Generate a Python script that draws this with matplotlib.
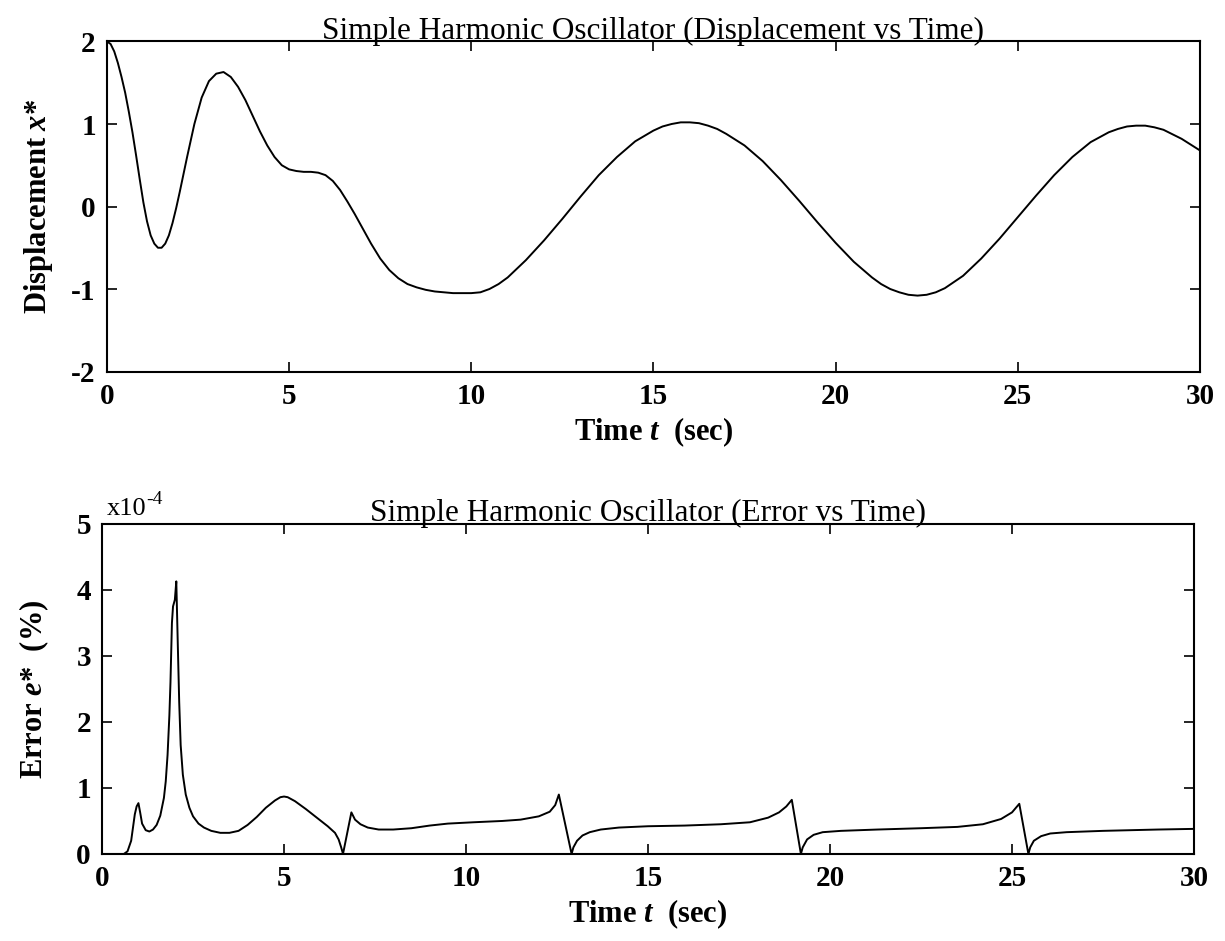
import numpy as np
import matplotlib
matplotlib.use("Agg")
import matplotlib.pyplot as plt

plt.rcParams['font.family'] = ['Liberation Serif', 'DejaVu Serif']
plt.rcParams['mathtext.fontset'] = 'custom'
plt.rcParams['mathtext.it'] = 'Liberation Serif:italic:bold'
plt.rcParams['mathtext.rm'] = 'Liberation Serif:bold'
plt.rcParams['axes.unicode_minus'] = False

# --- displacement x* vs time ---
t_disp = [0.0, 0.1, 0.2, 0.3, 0.4, 0.5, 0.6, 0.7, 0.8, 0.9, 1.0, 1.1, 1.2,
          1.3, 1.4, 1.5, 1.6, 1.7, 1.8, 1.9, 2.0, 2.2, 2.4, 2.6, 2.8, 3.0,
          3.2, 3.4, 3.6, 3.8, 4.0, 4.2, 4.4, 4.6, 4.8, 5.0, 5.2, 5.4, 5.6,
          5.8, 6.0, 6.2, 6.4, 6.6, 6.8, 7.0, 7.25, 7.5, 7.75, 8.0, 8.25, 8.5,
          8.75, 9.0, 9.5, 10.0, 10.25, 10.5, 10.75, 11.0, 11.5, 12.0, 12.5,
          13.0, 13.5, 14.0, 14.5, 15.0, 15.25, 15.5, 15.75, 16.0, 16.25, 16.5,
          16.75, 17.0, 17.5, 18.0, 18.5, 19.0, 19.5, 20.0, 20.5, 21.0, 21.25,
          21.5, 21.75, 22.0, 22.25, 22.5, 22.75, 23.0, 23.5, 24.0, 24.5, 25.0,
          25.5, 26.0, 26.5, 27.0, 27.5, 27.75, 28.0, 28.25, 28.5, 28.75, 29.0,
          29.5, 30.0]
x_disp = [2.0, 1.97, 1.88, 1.74, 1.57, 1.38, 1.15, 0.9, 0.62, 0.33, 0.05, -0.18, -0.35,
          -0.45, -0.5, -0.5, -0.45, -0.35, -0.2, -0.02, 0.18, 0.6, 1.0, 1.32, 1.52, 1.61,
          1.63, 1.57, 1.45, 1.29, 1.1, 0.91, 0.74, 0.6, 0.5, 0.45, 0.43, 0.42, 0.42,
          0.41, 0.38, 0.31, 0.2, 0.06, -0.09, -0.25, -0.45, -0.63, -0.77, -0.87, -0.94, -0.98,
          -1.01, -1.03, -1.05, -1.05, -1.04, -1.0, -0.94, -0.86, -0.65, -0.41, -0.15,
          0.12, 0.38, 0.6, 0.79, 0.92, 0.97, 1.0, 1.02, 1.02, 1.01, 0.98,
          0.94, 0.88, 0.74, 0.55, 0.32, 0.07, -0.19, -0.44, -0.67, -0.86, -0.94,
          -1.0, -1.04, -1.07, -1.08, -1.07, -1.04, -0.99, -0.84, -0.63, -0.39, -0.13,
          0.13, 0.38, 0.6, 0.78, 0.9, 0.94, 0.97, 0.98, 0.98, 0.96, 0.93,
          0.82, 0.68]

# --- error e* (units of 1e-4 %) vs time ---
t_err = [0.0, 0.6, 0.7, 0.8, 0.85, 0.9, 0.95, 1.0, 1.05, 1.1, 1.2, 1.3, 1.4,
         1.5, 1.6, 1.7, 1.75, 1.8, 1.85, 1.88, 1.92, 1.95, 2.0, 2.04, 2.08,
         2.12, 2.16, 2.22, 2.3, 2.4, 2.5, 2.65, 2.8, 3.0, 3.25, 3.5, 3.75,
         4.0, 4.25, 4.5, 4.75, 4.9, 5.0, 5.1, 5.3, 5.6, 5.9, 6.2, 6.4, 6.5,
         6.57, 6.62, 6.85, 6.95, 7.1, 7.3, 7.6, 8.0, 8.5, 9.0, 9.5, 10.2,
         11.0, 11.5, 12.0, 12.3, 12.45, 12.55, 12.9, 12.95, 13.05, 13.2, 13.4,
         13.7, 14.2, 15.0, 16.0, 17.0, 17.8, 18.3, 18.6, 18.8, 18.95, 19.2,
         19.25, 19.37, 19.55, 19.8, 20.3, 21.3, 22.5, 23.5, 24.2, 24.7, 25.0,
         25.2, 25.45, 25.5, 25.6, 25.8, 26.05, 26.5, 27.5, 29.0, 30.0]
e_err = [0.0, 0.0, 0.04, 0.2, 0.4, 0.6, 0.72, 0.77, 0.62, 0.46, 0.36, 0.34, 0.37,
         0.44, 0.58, 0.85, 1.1, 1.5, 2.1, 2.6, 3.5, 3.75, 3.85, 4.13, 3.2,
         2.3, 1.65, 1.2, 0.9, 0.7, 0.57, 0.46, 0.4, 0.35, 0.32, 0.32, 0.35,
         0.44, 0.56, 0.7, 0.81, 0.86, 0.87, 0.86, 0.8, 0.68, 0.55, 0.42, 0.32, 0.22,
         0.1, 0.0, 0.63, 0.52, 0.45, 0.4, 0.37, 0.37, 0.39, 0.43, 0.46, 0.48,
         0.5, 0.52, 0.57, 0.64, 0.74, 0.9, 0.0, 0.1, 0.2, 0.28, 0.33,
         0.37, 0.4, 0.42, 0.43, 0.45, 0.48, 0.55, 0.63, 0.72, 0.82, 0.0,
         0.1, 0.22, 0.29, 0.33, 0.35, 0.37, 0.39, 0.41, 0.45, 0.53, 0.63,
         0.76, 0.0, 0.1, 0.2, 0.27, 0.31, 0.33, 0.35, 0.37, 0.38]

x_ticks = [0, 5, 10, 15, 20, 25, 30]
disp_ticks = [-2, -1, 0, 1, 2]
err_ticks = [0, 1, 2, 3, 4, 5]

fig = plt.figure(figsize=(12.25, 9.41), dpi=100)
ax1 = fig.add_axes([0.0873, 0.6052, 0.8922, 0.3507])
ax2 = fig.add_axes([0.0833, 0.0925, 0.8914, 0.3507])


def style(ax):
    for s in ax.spines.values():
        s.set_linewidth(1.5)
    ax.tick_params(direction='in', top=True, right=True, length=7, width=1.2,
                   labelsize=21, pad=8)
    for lbl in ax.get_xticklabels() + ax.get_yticklabels():
        lbl.set_fontweight('bold')


ax1.plot(t_disp, x_disp, color='black', lw=1.4)
ax1.set_xlim(0, 30)
ax1.set_ylim(-2, 2)
ax1.set_xticks(x_ticks)
ax1.set_yticks(disp_ticks)
style(ax1)
ax1.set_title('Simple Harmonic Oscillator (Displacement vs Time)', fontsize=22.5,
              pad=2)
ax1.set_xlabel(r'Time $t$  (sec)', fontsize=22, fontweight='bold', labelpad=4)
ax1.set_ylabel(r'Displacement $x$*', fontsize=22, fontweight='bold', labelpad=12)

ax2.plot(t_err, e_err, color='black', lw=1.4)
ax2.set_xlim(0, 30)
ax2.set_ylim(0, 5)
ax2.set_xticks(x_ticks)
ax2.set_yticks(err_ticks)
style(ax2)
ax2.set_title('Simple Harmonic Oscillator (Error vs Time)', fontsize=22.5, pad=2)
ax2.set_xlabel(r'Time $t$  (sec)', fontsize=22, fontweight='bold', labelpad=4)
ax2.set_ylabel(r'Error $e$*  (%)', fontsize=22, fontweight='bold', labelpad=18)

# scale factor above the y axis, MATLAB style "x10^-4"
scale_txt = ax2.text(0.004, 1.012, 'x10', transform=ax2.transAxes,
                     fontsize=19, ha='left', va='bottom')
ax2.annotate('-4', xy=(1.0, 0.55), xycoords=scale_txt, fontsize=14,
             ha='left', va='bottom')

fig.savefig('out.png', dpi=100)
